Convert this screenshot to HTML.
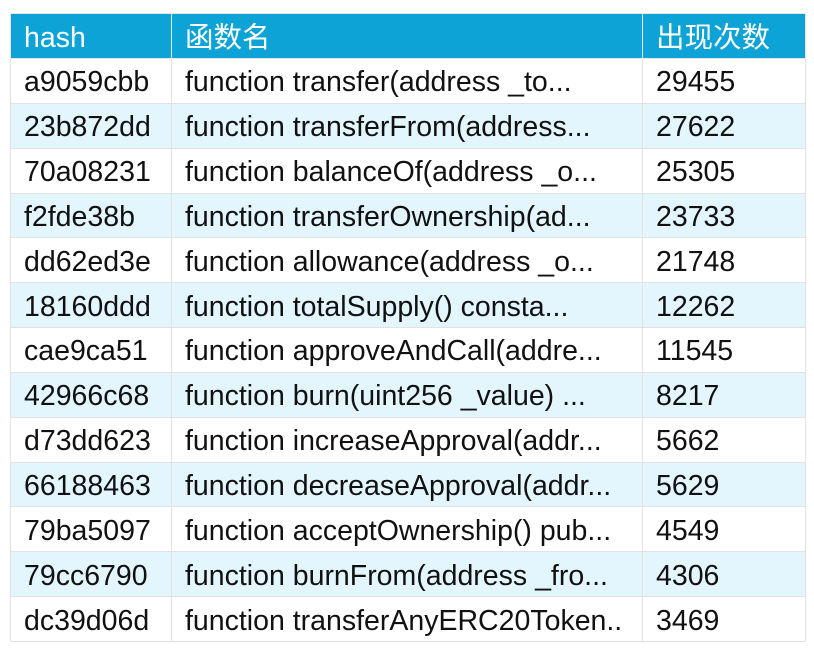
<!DOCTYPE html>
<html><head><meta charset="utf-8"><style>
html,body{margin:0;padding:0;background:#fff;width:814px;height:658px;overflow:hidden}
table{position:absolute;left:10px;top:13px;border-collapse:collapse;width:795px;table-layout:fixed;font-family:"Liberation Sans","Noto Sans CJK SC",sans-serif;font-size:28.5px;color:#111}
td,th{border:1px solid #e2e2e2;height:44.85px;padding:3px 0 0 13px;white-space:nowrap;overflow:hidden;text-align:left;font-weight:normal;box-sizing:border-box;line-height:40px}
th{background:#0ea3d6;color:#fff;height:45px;border-color:#e8e8e8}
td{background:#fff}
tbody tr:nth-child(even) td{background:#e3f5fd}
</style></head><body>
<table>
<colgroup><col style="width:161px"><col style="width:471px"><col style="width:163px"></colgroup>
<thead><tr><th>hash</th><th>函数名</th><th>出现次数</th></tr></thead>
<tbody>
<tr><td>a9059cbb</td><td>function transfer(address _to...</td><td>29455</td></tr>
<tr><td>23b872dd</td><td>function transferFrom(address...</td><td>27622</td></tr>
<tr><td>70a08231</td><td>function balanceOf(address _o...</td><td>25305</td></tr>
<tr><td>f2fde38b</td><td>function transferOwnership(ad...</td><td>23733</td></tr>
<tr><td>dd62ed3e</td><td>function allowance(address _o...</td><td>21748</td></tr>
<tr><td>18160ddd</td><td>function totalSupply() consta...</td><td>12262</td></tr>
<tr><td>cae9ca51</td><td>function approveAndCall(addre...</td><td>11545</td></tr>
<tr><td>42966c68</td><td>function burn(uint256 _value) ...</td><td>8217</td></tr>
<tr><td>d73dd623</td><td>function increaseApproval(addr...</td><td>5662</td></tr>
<tr><td>66188463</td><td>function decreaseApproval(addr...</td><td>5629</td></tr>
<tr><td>79ba5097</td><td>function acceptOwnership() pub...</td><td>4549</td></tr>
<tr><td>79cc6790</td><td>function burnFrom(address _fro...</td><td>4306</td></tr>
<tr><td>dc39d06d</td><td>function transferAnyERC20Token..</td><td>3469</td></tr>
</tbody></table>
</body></html>
